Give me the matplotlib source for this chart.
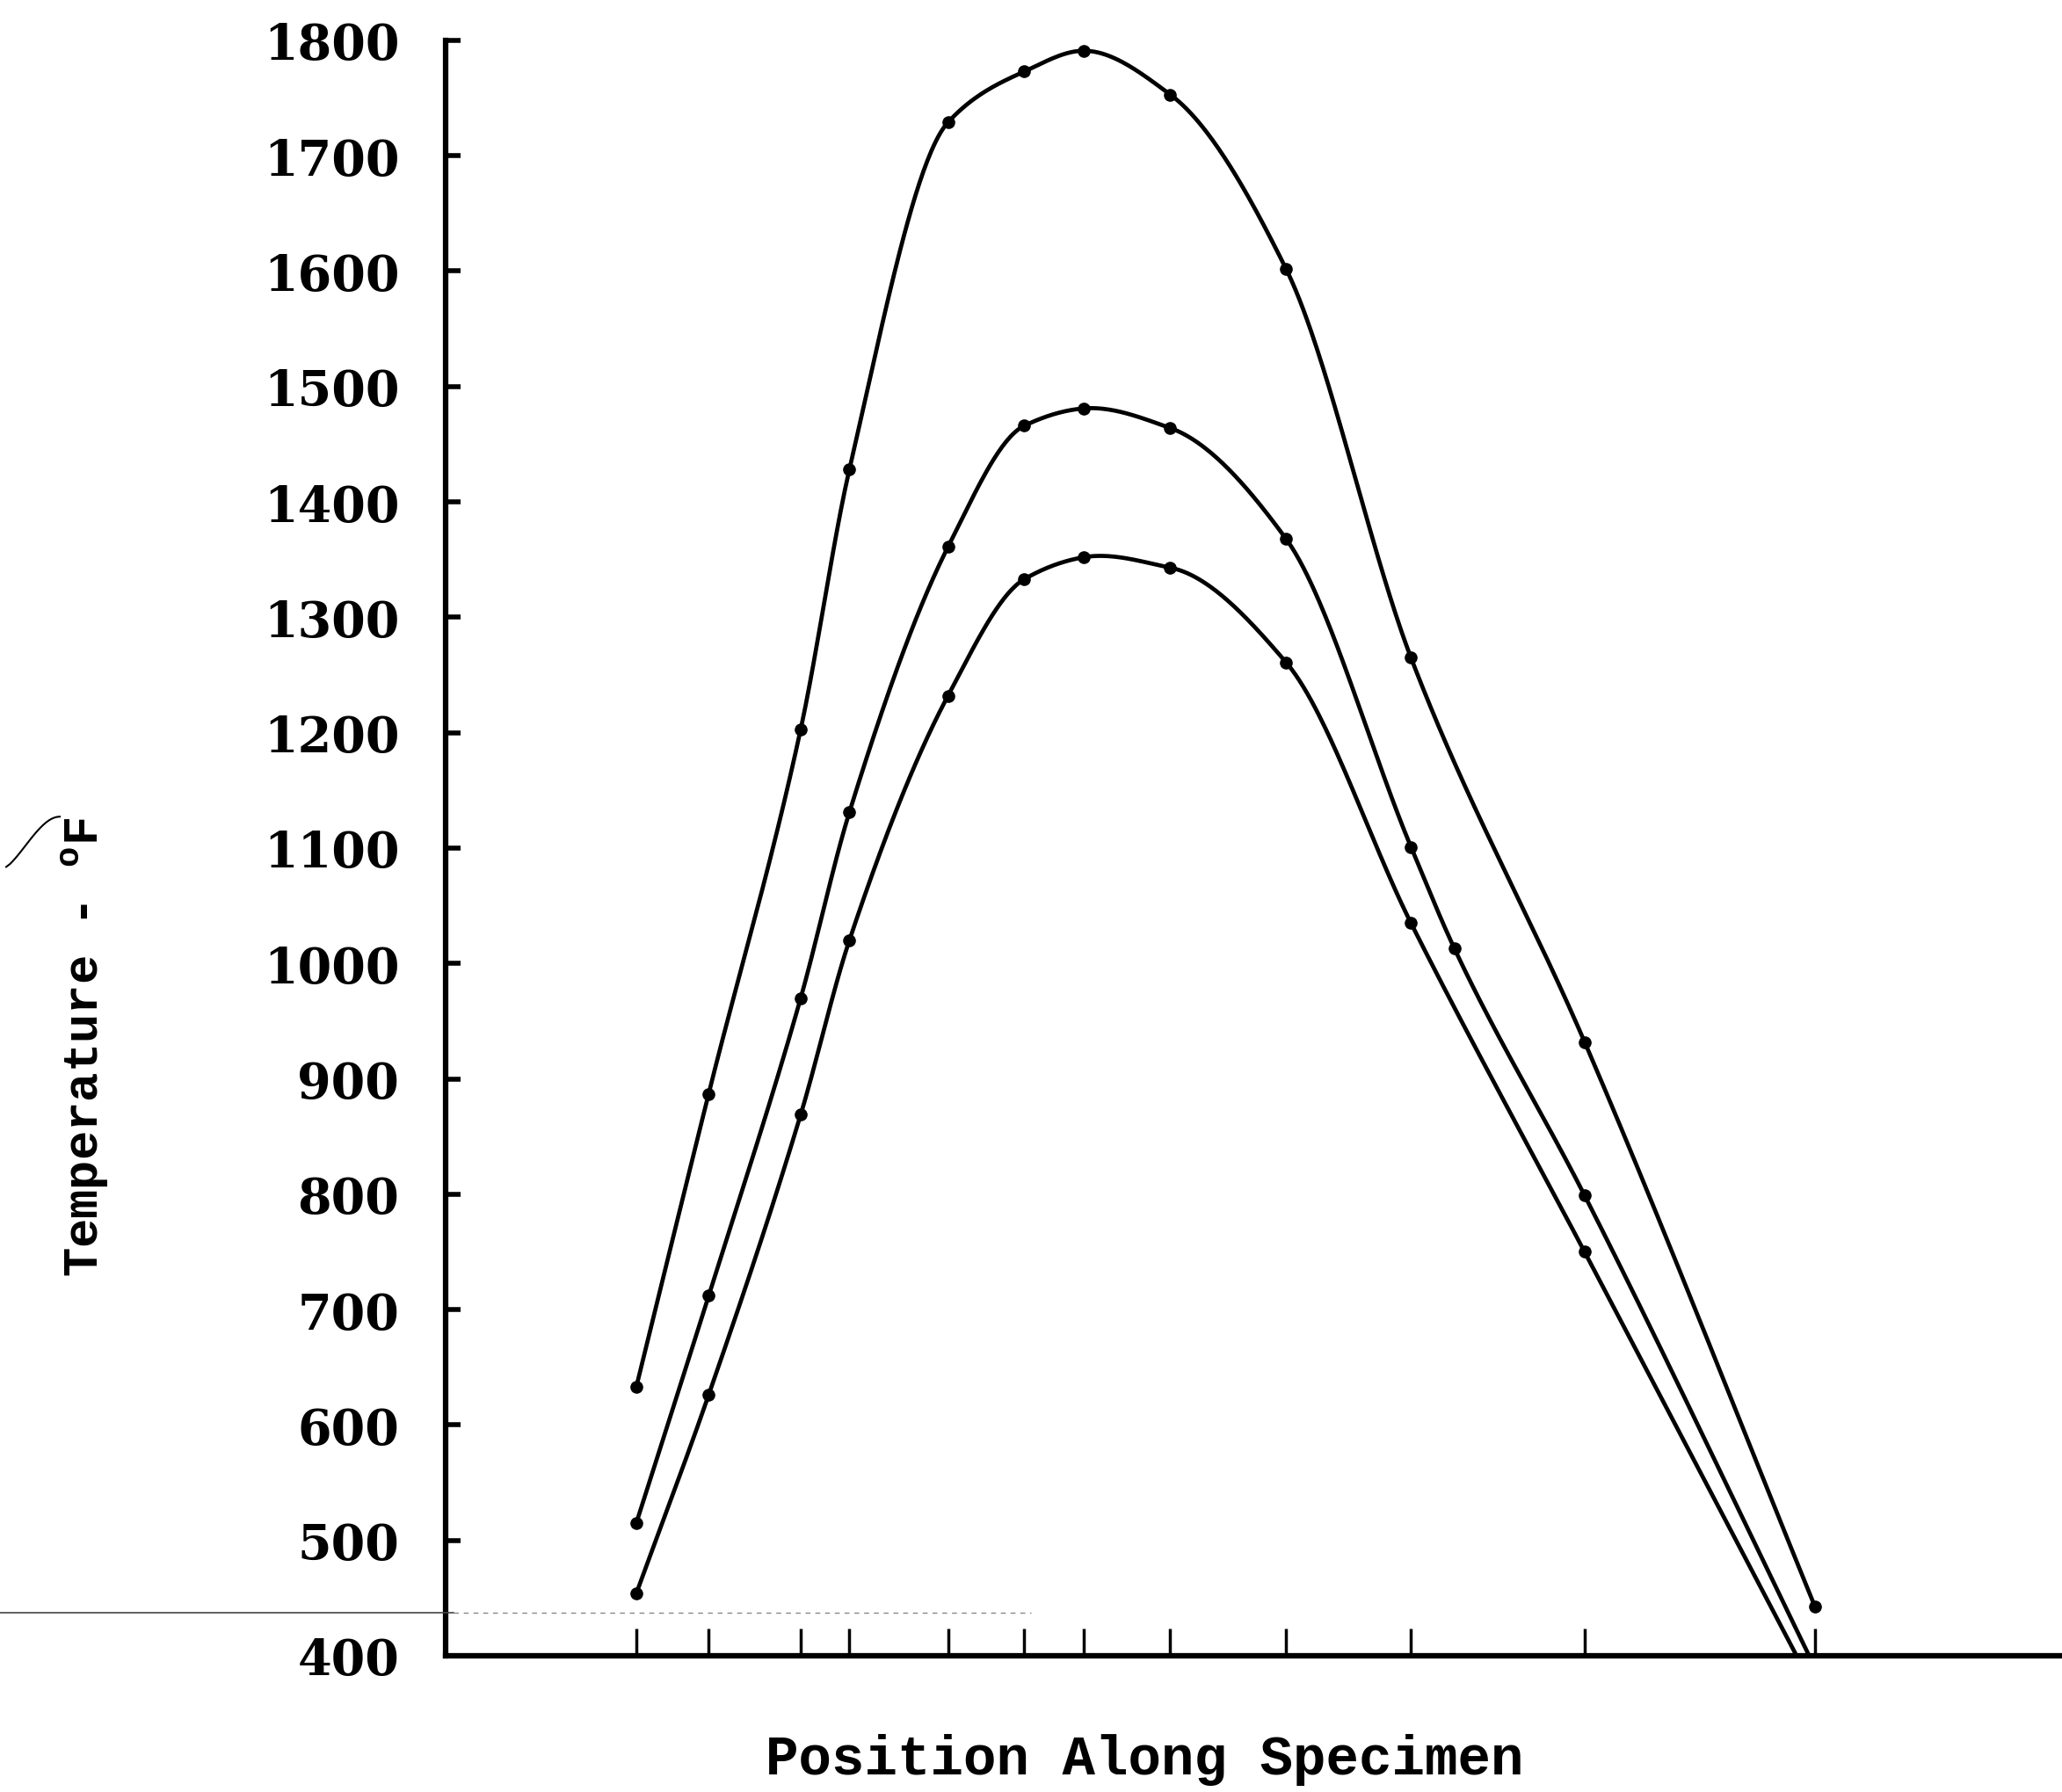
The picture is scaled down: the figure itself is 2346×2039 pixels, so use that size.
import matplotlib.pyplot as plt
import numpy as np

plt.rcParams['mathtext.fontset'] = 'custom'
plt.rcParams['mathtext.rm'] = 'Liberation Mono:bold'

# thermocouple positions along the specimen (arbitrary units, no labels on the chart)
positions = [145, 200, 270, 307, 382, 440, 485, 551, 639, 734, 866, 1041]
yticks = list(range(400, 1900, 100))

# three runs, deg F
top_x = positions
top_t = [633, 887, 1203, 1428, 1729, 1773, 1791, 1753, 1602, 1265, 932, 443]

mid_x = positions[:10] + [767] + positions[10:]
mid_t = [515, 712, 970, 1131, 1361, 1466, 1481, 1464, 1368, 1101, 1013, 799, 390]

bot_x = positions
bot_t = [454, 626, 869, 1020, 1232, 1333, 1352, 1343, 1261, 1035, 750, 370]


def smooth(xs, ys, n=600):
    # cubic through the points, like a french-curve drawing
    xs = np.asarray(xs, float)
    ys = np.asarray(ys, float)
    h = np.diff(xs)
    d = np.diff(ys) / h
    m = np.zeros_like(xs)
    m[0] = d[0]
    m[-1] = d[-1]
    for k in range(1, len(xs) - 1):
        if d[k - 1] * d[k] > 0:
            w1 = 2 * h[k] + h[k - 1]
            w2 = h[k] + 2 * h[k - 1]
            m[k] = (w1 + w2) / (w1 / d[k - 1] + w2 / d[k])
        else:
            # let the peak round off past the point
            m[k] = (h[k] * d[k - 1] + h[k - 1] * d[k]) / (h[k - 1] + h[k])
    xx = np.linspace(xs[0], xs[-1], n)
    i = np.clip(np.searchsorted(xs, xx) - 1, 0, len(h) - 1)
    t = (xx - xs[i]) / h[i]
    yy = ((2 * t**3 - 3 * t**2 + 1) * ys[i] + (t**3 - 2 * t**2 + t) * h[i] * m[i]
          + (-2 * t**3 + 3 * t**2) * ys[i + 1] + (t**3 - t**2) * h[i] * m[i + 1])
    return xx, yy


fig = plt.figure(figsize=(23.46, 20.40), dpi=100, facecolor='white')
ax = fig.add_axes([0.2161, 0.076, 0.7839, 0.901])

for xs, ts in [(top_x, top_t), (mid_x, mid_t), (bot_x, bot_t)]:
    sx, sy = smooth(xs, ts)
    ax.plot(sx, sy, color='black', lw=3.4, solid_capstyle='round')
    ax.plot(xs, ts, 'o', color='black', ms=9.5)

ax.set_xlim(0, 1229)
ax.set_ylim(400, 1800)

for s in ['top', 'right']:
    ax.spines[s].set_visible(False)
ax.spines['left'].set_linewidth(4.5)
ax.spines['bottom'].set_linewidth(4.5)

ax.set_xticks(positions)
ax.set_xticklabels([])
ax.tick_params(axis='x', direction='in', length=22, width=2.5, color='black')

ax.set_yticks(yticks)
ax.set_yticklabels([str(v) for v in yticks], fontfamily='DejaVu Serif',
                   fontweight='bold', fontsize=40)
ax.tick_params(axis='y', direction='in', length=12, width=4, pad=38)

fig.text(0.555, 0.0186, 'Position Along Specimen', ha='center', va='center',
         fontfamily='Liberation Mono', fontweight='bold', fontsize=45)
fig.text(0.041, 0.416, r'Temperature - $^{\mathrm{o}}\mathrm{F}$', ha='center',
         va='center', rotation=90, fontfamily='Liberation Mono',
         fontweight='bold', fontsize=40)

# scan marks: faint rule across the lower left and a pen stroke by the label
fig.add_artist(plt.Line2D([0, 0.22], [0.1, 0.1], color='#444444', lw=1.2,
                          transform=fig.transFigure))
fig.add_artist(plt.Line2D([0.22, 0.5], [0.1, 0.1], color='#888888', lw=1.0,
                          ls=(0, (4, 4)), transform=fig.transFigure))
arc = np.linspace(0, 1, 30)
fig.add_artist(plt.Line2D(0.003 + 0.026 * arc**0.8, 0.516 + 0.028 * np.sin(arc * np.pi / 2),
                          color='black', lw=1.5, transform=fig.transFigure))

fig.savefig('out.png', dpi=100, facecolor='white')
